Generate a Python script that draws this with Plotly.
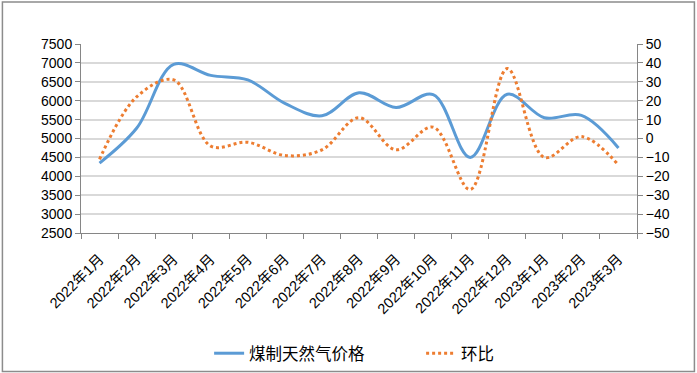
import plotly.graph_objects as go

months = ["2022年1月", "2022年2月", "2022年3月", "2022年4月", "2022年5月", "2022年6月",
          "2022年7月", "2022年8月", "2022年9月", "2022年10月", "2022年11月", "2022年12月",
          "2023年1月", "2023年2月", "2023年3月"]
price = [4350, 5270, 6960, 6670, 6550, 5930, 5600, 6210, 5820, 6160, 4500, 6170, 5550, 5610, 4750]
mom = [-11, 22, 31, -4, -2, -9, -6, 11, -6, 6, -27, 37, -10, 1, -14]

W, H = 697, 373
L, R, T, B = 80.7, 637.5, 44, 232.7
pw, ph = R - L, B - T

def px(x):
    return (x - L) / pw

def py(y):
    return (B - y) / ph

font_main = "Liberation Sans, Noto Sans CJK SC, sans-serif"

fig = go.Figure()
fig.add_trace(go.Scatter(x=months, y=price, name="煤制天然气价格", mode="lines",
                         line=dict(color="#5B9BD5", width=3, shape="spline", smoothing=1)))
fig.add_trace(go.Scatter(x=months, y=mom, name="环比", mode="lines", yaxis="y2",
                         line=dict(color="#ED7D31", width=3, dash="dot", shape="spline", smoothing=1)))

fig.update_layout(
    width=W, height=H,
    margin=dict(l=L, r=W - R, t=T, b=H - B, pad=0, autoexpand=False),
    paper_bgcolor="white", plot_bgcolor="white",
    font=dict(family=font_main, size=14, color="black"),
    showlegend=True,
    legend=dict(orientation="h", x=px(209), xanchor="left", y=py(353), yanchor="middle",
                font=dict(size=16.5), entrywidth=167, entrywidthmode="pixels",
                bgcolor="rgba(0,0,0,0)"),
    xaxis=dict(type="category", tickangle=-45, showline=True, linecolor="#868686", linewidth=1,
               ticks="outside", ticklen=5, tickcolor="#868686", tickson="boundaries",
               showgrid=False, tickfont=dict(size=14.5), range=[-0.5, 14.5], automargin=False,
               ticklabelstandoff=11),
    yaxis=dict(range=[2500, 7500], dtick=500, tick0=2500, showline=True, linecolor="#868686",
               ticks="outside", ticklen=5, tickcolor="#868686", gridcolor="#D9D9D9", gridwidth=1.5,
               zeroline=False, tickfont=dict(size=14), automargin=False),
    yaxis2=dict(range=[-50, 50], dtick=10, tick0=-50, overlaying="y", side="right",
                showline=True, linecolor="#868686", ticks="outside", ticklen=5, tickcolor="#868686",
                showgrid=False, zeroline=False, tickfont=dict(size=14), automargin=False),
    shapes=[dict(type="rect", xref="paper", yref="paper",
                 x0=px(2), x1=px(695), y0=py(2), y1=py(371),
                 line=dict(color="#8C8C8C", width=1.5), fillcolor="rgba(0,0,0,0)", layer="below")],
)

fig.write_html("out.html", config={"displayModeBar": False},
               post_script="document.body.style.margin='0';document.body.style.overflow='hidden';")
